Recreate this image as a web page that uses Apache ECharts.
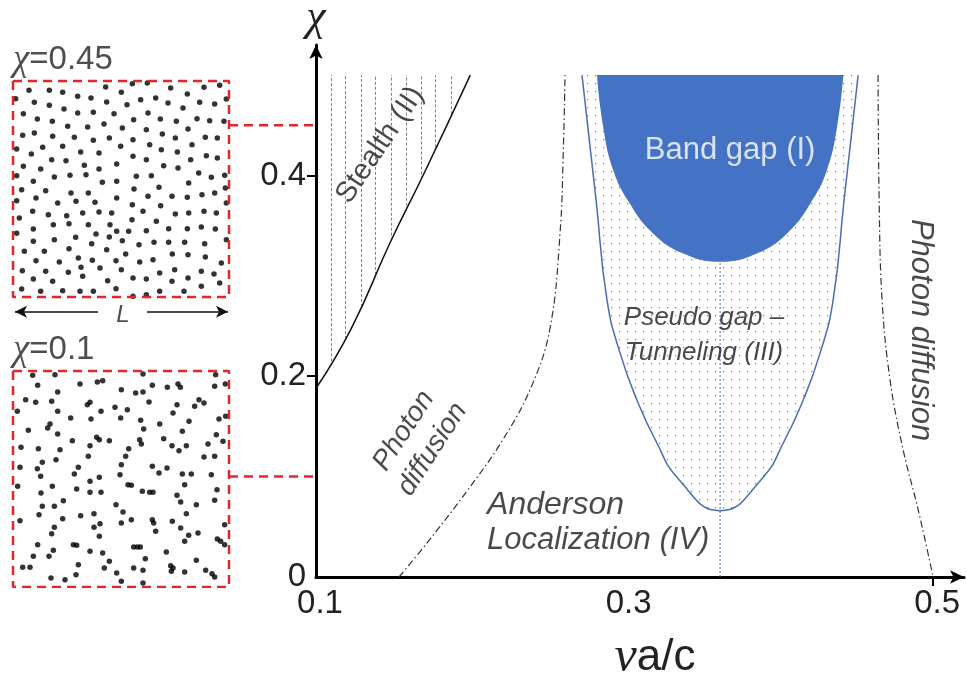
<!DOCTYPE html>
<html>
<head>
<meta charset="utf-8">
<script src="https://cdn.jsdelivr.net/npm/echarts@6/dist/echarts.min.js"></script>
<style>
  html, body { margin: 0; background: #fff; }
  #chart { width: 967px; height: 677px; }
</style>
</head>
<body>
<div id="chart"></div>
<script>
// ---------- main diagram data (x = νa/c, y = χ) ----------
const xTicks = [0.1, 0.3, 0.5];
const yTicks = [0, 0.2, 0.4];
const xTickMarks = [0.5];
const yTickMarks = [0.2, 0.4];

const stealthEdge = [[0.1, 0.188], [0.123, 0.248], [0.148, 0.333], [0.17, 0.402], [0.2, 0.5]];
const hatchX = [0.1097, 0.1188, 0.1292, 0.1387, 0.1486, 0.1582, 0.1681, 0.1776, 0.1875];
const hatchLow = [0.215, 0.237, 0.269, 0.301, 0.335, 0.365, 0.396, 0.428, 0.461];
const hatchTop = 0.5;

const diffusionLeft = [[0.1538, 0], [0.172, 0.034], [0.1985, 0.087], [0.2212, 0.137], [0.2397, 0.19],
  [0.2517, 0.248], [0.2582, 0.343], [0.2603, 0.425], [0.2614, 0.5]];
const diffusionRight = [[0.4643, 0.5], [0.465, 0.376], [0.4669, 0.276], [0.4721, 0.196],
  [0.4805, 0.127], [0.4903, 0.067], [0.5, 0]];

const pseudoGap = [[0.2724, 0.5], [0.2815, 0.376], [0.2886, 0.276], [0.2971, 0.223],
  [0.3081, 0.176], [0.3198, 0.137], [0.3353, 0.097], [0.3619, 0.066],
  [0.3885, 0.097], [0.404, 0.137], [0.4157, 0.176], [0.4267, 0.223],
  [0.4352, 0.276], [0.4423, 0.376], [0.4514, 0.5]];
const bandGap = [[0.2822, 0.5], [0.2861, 0.449], [0.2925, 0.406], [0.3030, 0.373], [0.3180, 0.343],
  [0.337, 0.323], [0.3619, 0.314], [0.3868, 0.323], [0.4058, 0.343], [0.4208, 0.373],
  [0.4313, 0.406], [0.4378, 0.449], [0.4417, 0.5]];
const gapCenter = [[0.3619, -0.008], [0.3619, 0.314]];

const sampleChi = [0.45, 0.1];

// ---------- point patterns (sample units, L = 648) ----------
const L = 648;
const hyperDots = [
  [48,28],[109,28],[149,34],[278,18],[8,53],[64,64],[109,73],[194,46],[234,51],[281,63],[31,98],[73,114],
  [153,84],[194,96],[241,94],[303,98],[118,121],[164,136],[224,138],[273,129],[29,163],[64,156],[119,166],
  [184,169],[241,178],[289,171],[11,204],[89,199],[149,196],[203,213],[258,216],[55,219],[116,236],[159,239],
  [214,253],[31,256],[83,264],[171,283],[258,264],[311,249],[11,284],[61,301],[124,288],[219,281],[268,304],
  [26,326],[98,329],[134,366],[174,336],[226,336],[311,301],[11,359],[69,351],[189,361],[246,364],[311,351],
  [59,391],[106,401],[161,404],[209,396],[258,393],[296,396],[19,411],[121,431],[168,428],[226,431],[291,431],
  [61,444],[249,459],[311,451],[11,457],[61,481],[124,476],[188,469],[236,488],[289,468],[34,511],[94,511],
  [168,503],[281,506],[69,539],[139,543],[196,531],[238,538],[309,539],[28,569],[98,571],[166,574],[204,559],
  [261,561],[61,594],[119,601],[209,586],[284,599],[26,624],[83,631],[149,629],[201,631],[241,631],[309,623],
  [358,8],[403,6],[473,21],[523,39],[573,19],[620,13],[325,34],[383,56],[428,51],[465,66],[510,81],[560,64],
  [605,69],[640,54],[342,71],[405,96],[362,116],[442,114],[490,121],[552,113],[590,119],[633,121],[328,141],
  [400,146],[448,159],[525,144],[360,176],[487,171],[577,169],[613,171],[323,196],[410,191],[445,206],
  [493,213],[537,191],[360,226],[400,236],[533,236],[580,224],[613,231],[452,254],[495,261],[557,276],
  [595,289],[635,283],[370,286],[415,284],[363,324],[438,319],[527,306],[637,321],[405,346],[477,346],
  [523,349],[567,341],[605,336],[358,371],[443,374],[640,366],[390,391],[430,421],[487,399],[527,396],
  [573,391],[610,396],[357,416],[347,451],[400,449],[467,443],[523,443],[565,438],[607,444],[328,479],
  [378,491],[423,484],[467,484],[515,484],[575,488],[640,476],[338,519],[380,543],[420,536],[478,519],
  [525,521],[577,528],[625,546],[325,566],[360,591],[400,594],[440,576],[485,566],[525,591],[565,571],
  [603,579],[360,646],[400,641],[440,631],[477,601],[513,631],[565,616],[620,606]
];
const poissonDots = [
  [59,13],[126,11],[74,43],[201,39],[253,33],[269,29],[134,63],[38,86],[68,94],[116,91],[223,101],[231,94],
  [13,121],[134,121],[173,141],[234,144],[264,121],[306,109],[111,159],[104,171],[46,178],[134,189],[178,209],
  [251,199],[259,206],[289,209],[24,229],[76,233],[141,236],[231,224],[226,256],[88,274],[129,266],[196,289],
  [21,289],[73,293],[184,309],[83,316],[231,331],[259,319],[321,311],[14,346],[118,346],[191,354],[84,366],
  [231,364],[264,364],[151,389],[88,406],[124,406],[309,401],[78,431],[203,434],[243,428],[21,449],[149,443],
  [261,458],[124,469],[243,469],[116,488],[259,496],[74,521],[181,521],[191,523],[121,538],[231,541],[269,546],
  [61,556],[108,556],[289,571],[196,581],[29,589],[51,589],[274,591],[114,621],[156,626],[189,611],[311,606],
  [390,9],[608,11],[325,56],[418,43],[463,49],[495,39],[502,49],[605,46],[637,39],[368,66],[390,63],[408,93],
  [558,86],[573,96],[492,101],[545,106],[343,116],[480,126],[323,141],[383,148],[440,159],[528,151],[618,144],
  [638,136],[392,174],[508,181],[610,191],[380,206],[385,219],[452,203],[477,224],[498,239],[520,224],[585,219],
  [630,211],[347,233],[338,256],[573,258],[605,256],[325,281],[418,286],[462,291],[438,306],[508,309],[535,309],
  [595,311],[345,341],[355,343],[515,341],[612,356],[388,361],[410,364],[420,364],[492,373],[503,393],[550,401],
  [605,388],[330,423],[520,428],[325,456],[355,446],[418,446],[478,451],[422,456],[428,481],[503,471],[555,486],
  [527,493],[635,461],[613,504],[623,511],[515,511],[635,521],[362,528],[373,528],[382,528],[460,543],[397,563],
  [550,568],[362,591],[390,598],[473,584],[480,591],[475,601],[515,603],[578,598],[597,608],[605,618],[325,631],
  [390,636]
];
const boxOutline = [[0, 0], [L, 0], [L, L], [0, L], [0, 0]];

// ---------- styles ----------
const RED = '#e3262b';
const BLUE = '#4472c4';
const EDGE = '#4a6cb4';
const SANS = 'Liberation Sans';

const dotTile = document.createElement('canvas');
dotTile.width = 8; dotTile.height = 8;
const tctx = dotTile.getContext('2d');
tctx.fillStyle = '#7a7a7a';
tctx.fillRect(3, 3, 1.2, 1.2);

// filled region (and optional open outline) drawn with the same smoothing
function region(points, fill, z, smooth, edge) {
  return {
    type: 'custom', xAxisIndex: 0, yAxisIndex: 0, z: z, silent: true,
    data: [[0.3, 0.3]],
    renderItem: function (params, api) {
      const pts = points.map(function (p) { return api.coord(p); });
      const lo = [Infinity, Infinity], hi = [-Infinity, -Infinity];
      pts.forEach(function (p) {
        lo[0] = Math.min(lo[0], p[0]); lo[1] = Math.min(lo[1], p[1]);
        hi[0] = Math.max(hi[0], p[0]); hi[1] = Math.max(hi[1], p[1]);
      });
      const kids = [{
        type: 'polygon',
        shape: { points: pts, smooth: smooth, smoothConstraint: [lo, hi] },
        style: { fill: fill, stroke: null }
      }];
      if (edge) {
        kids.push({
          type: 'polyline',
          shape: { points: pts, smooth: smooth, smoothConstraint: [lo, hi] },
          style: { fill: null, stroke: edge, lineWidth: 1.5 }
        });
      }
      return { type: 'group', children: kids };
    }
  };
}

function curve(data, color, width, type, smooth, z) {
  return {
    type: 'line', xAxisIndex: 0, yAxisIndex: 0, data: data, smooth: smooth, symbol: 'none',
    silent: true, z: z, lineStyle: { color: color, width: width, type: type }
  };
}

function note(pos, text, extra) {
  return {
    value: pos,
    label: Object.assign({
      show: true, formatter: text, position: 'inside', fontFamily: SANS, fontSize: 26,
      color: '#1c1c1c', fontStyle: 'italic', lineHeight: 32
    }, extra || {})
  };
}

const mainNotes = [
  note([0.3684, 0.4254], 'Band gap (I)', { color: '#ffffff', fontStyle: 'normal', fontSize: 31 }),
  note([0.3515, 0.258], 'Pseudo gap –'),
  note([0.3515, 0.2232], 'Tunneling (III)'),
  note([0.2109, 0.0717], 'Anderson', { align: 'left', fontSize: 32 }),
  note([0.2109, 0.0369], 'Localization (IV)', { align: 'left', fontSize: 31 }),
  note([0.1661, 0.1365], 'Photon\ndiffusion', { rotate: 57, fontSize: 28, lineHeight: 34 }),
  note([0.1415, 0.4304], 'Stealth (II)', { rotate: 56, fontStyle: 'normal', fontSize: 29 }),
  note([0.4916, 0.246], 'Photon diffusion', { rotate: -90, fontSize: 31 })
];

function boxSeries(gridIdx, dots, chi) {
  return [
    {
      type: 'scatter', xAxisIndex: gridIdx, yAxisIndex: gridIdx, data: dots,
      symbolSize: 5.5, itemStyle: { color: '#000' }, silent: true, clip: false
    },
    {
      type: 'line', xAxisIndex: gridIdx, yAxisIndex: gridIdx, data: boxOutline, symbol: 'none',
      silent: true, lineStyle: { color: RED, width: 2.5, type: [9, 6] }
    },
    {
      type: 'scatter', xAxisIndex: gridIdx, yAxisIndex: gridIdx, symbolSize: 0, silent: true, clip: false,
      data: [{
        value: [0, -63],
        label: {
          show: true, position: 'inside', align: 'left', formatter: '{c|χ}=' + chi,
          fontFamily: SANS, fontSize: 33, color: '#222',
          rich: { c: { fontFamily: 'Liberation Serif', fontStyle: 'italic', fontSize: 37, color: '#222' } }
        }
      }]
    }
  ];
}

const series = [
  region(pseudoGap, { image: dotTile, repeat: 'repeat' }, 1, 0.5, EDGE),
  region(bandGap, BLUE, 2, 0.45),
  curve(gapCenter, EDGE, 1, [2, 2], false, 3),
  {
    type: 'lines', coordinateSystem: 'cartesian2d', xAxisIndex: 0, yAxisIndex: 0, silent: true, z: 3,
    data: hatchX.map(function (x, i) { return { coords: [[x, hatchLow[i]], [x, hatchTop]] }; }),
    lineStyle: { color: '#808080', width: 1, type: [3, 2], opacity: 1 }
  },
  curve(stealthEdge, '#111', 1.5, 'solid', 0.5, 4),
  curve(diffusionLeft, '#333', 1.2, [7, 3, 1.5, 3], 0.4, 4),
  curve(diffusionRight, '#333', 1.2, [7, 3, 1.5, 3], 0.4, 4),
  { type: 'scatter', xAxisIndex: 0, yAxisIndex: 0, symbolSize: 0, silent: true, z: 6, data: mainNotes }
]
  .concat(boxSeries(1, hyperDots, sampleChi[0]))
  .concat(boxSeries(2, poissonDots, sampleChi[1]))
  .concat([
    {
      type: 'line', xAxisIndex: 1, yAxisIndex: 1, data: [], silent: true,
      markLine: {
        silent: true, symbol: ['none', 'arrow'], symbolSize: [9, 12], label: { show: false },
        lineStyle: { color: '#111', type: 'solid', width: 1.5 },
        data: [[{ coord: [255, 692] }, { coord: [6, 692] }], [{ coord: [402, 692] }, { coord: [645, 692] }]]
      }
    },
    {
      type: 'scatter', xAxisIndex: 1, yAxisIndex: 1, symbolSize: 0, silent: true, clip: false,
      data: [{ value: [330, 702], label: { show: true, position: 'inside', formatter: 'L', fontFamily: SANS, fontStyle: 'italic', fontSize: 24, color: '#222' } }]
    }
  ])
  .concat(sampleChi.map(function (c) {
    return {
      type: 'line', xAxisIndex: 3, yAxisIndex: 3, data: [[0, c], [1, c]], symbol: 'none', silent: true,
      lineStyle: { color: RED, width: 2.5, type: [9, 6] }
    };
  }));

const hidden = { show: false };
const tickFont = { margin: 10, fontFamily: SANS, fontSize: 33, color: '#222', formatter: function (v) { return String(v); } };
const option = {
  animation: false,
  backgroundColor: '#fff',
  grid: [
    { left: 316, right: 3, top: 45, bottom: 100, outerBoundsMode: 'none', containLabel: false },
    { left: 13, width: 216, top: 51, height: 270, outerBoundsMode: 'none' },
    { left: 13, width: 216, top: 341, height: 246, outerBoundsMode: 'none' },
    { left: 229, width: 87, top: 45, bottom: 100, outerBoundsMode: 'none' }
  ],
  xAxis: [
    {
      type: 'value', gridIndex: 0, min: 0.1, max: 0.52,
      name: '{n|ν}{r|a/c}', nameLocation: 'middle', nameGap: 56,
      nameTextStyle: {
        padding: [0, 0, 0, 30],
        rich: {
          n: { fontFamily: 'Liberation Serif', fontStyle: 'italic', fontSize: 50, color: '#222' },
          r: { fontFamily: SANS, fontSize: 44, color: '#222' }
        }
      },
      axisLine: { show: true, onZero: false, symbol: ['none', 'arrow'], symbolSize: [10, 14], lineStyle: { color: '#000', width: 3 } },
      axisTick: { show: true, customValues: xTickMarks, length: 9, lineStyle: { color: '#000', width: 2 } },
      axisLabel: Object.assign({ customValues: xTicks, padding: [0, 0, 0, 8] }, tickFont),
      splitLine: hidden
    },
    { type: 'value', gridIndex: 1, min: 0, max: L, show: false },
    { type: 'value', gridIndex: 2, min: 0, max: L, show: false },
    { type: 'value', gridIndex: 3, min: 0, max: 1, show: false }
  ],
  yAxis: [
    {
      type: 'value', gridIndex: 0, min: 0, max: 0.53,
      name: 'χ', nameLocation: 'end', nameGap: 5,
      nameTextStyle: { fontFamily: 'Liberation Serif', fontStyle: 'italic', fontSize: 44, color: '#222', verticalAlign: 'bottom' },
      axisLine: { show: true, onZero: false, symbol: ['none', 'arrow'], symbolSize: [10, 14], lineStyle: { color: '#000', width: 3 } },
      axisTick: { show: true, customValues: yTickMarks, length: 9, lineStyle: { color: '#000', width: 2 } },
      axisLabel: Object.assign({ customValues: yTicks }, tickFont),
      splitLine: hidden
    },
    { type: 'value', gridIndex: 1, min: -90, max: 720, inverse: true, show: false },
    { type: 'value', gridIndex: 2, min: -90, max: 648, inverse: true, show: false },
    { type: 'value', gridIndex: 3, min: 0, max: 0.53, show: false }
  ],
  series: series
};

const chart = echarts.init(document.getElementById('chart'));
chart.setOption(option);
</script>
</body>
</html>
